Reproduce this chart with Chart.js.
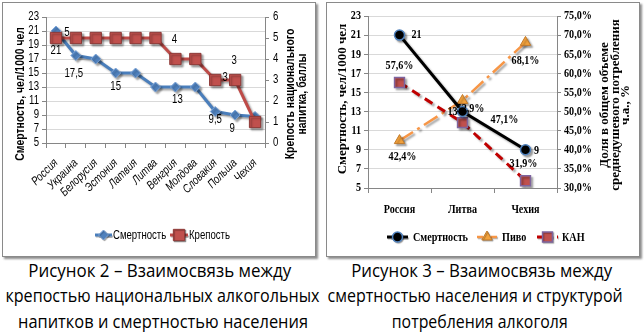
<!DOCTYPE html>
<html><head><meta charset="utf-8">
<script src="https://cdn.jsdelivr.net/npm/chart.js@4.4.0/dist/chart.umd.min.js"></script>
<style>
html,body{margin:0;padding:0;background:#fff;width:644px;height:334px;overflow:hidden;}
.box{position:absolute;border:1px solid #8a8a8a;box-shadow:2px 2px 2px rgba(0,0,0,.45);background:#fff;}
.box canvas{position:absolute;left:0;top:0;}
.ln{position:absolute;width:400px;text-align:center;font-family:"Open Sans","Noto Sans",sans-serif;font-size:18px;line-height:25px;height:25px;color:#000;white-space:nowrap;}
.ln span{display:inline-block;transform-origin:50% 50%;}
</style></head><body>
<div class="box" style="left:2px;top:2px;width:312px;height:253px"><canvas id="c1" width="312" height="253"></canvas></div>
<div class="box" style="left:326px;top:2px;width:312px;height:253px"><canvas id="c2" width="312" height="253"></canvas></div>
<div class="ln" data-c="160" data-w="263" style="top:258px"><span>Рисунок 2 – Взаимосвязь между</span></div>
<div class="ln" data-c="162" data-w="314" style="top:283px"><span>крепостью национальных алкогольных</span></div>
<div class="ln" data-c="163" data-w="290" style="top:309px"><span>напитков и смертностью населения</span></div>
<div class="ln" data-c="482" data-w="261" style="top:258px"><span>Рисунок 3 – Взаимосвязь между</span></div>
<div class="ln" data-c="475" data-w="295" style="top:283px"><span>смертностью населения и структурой</span></div>
<div class="ln" data-c="480" data-w="176" style="top:309px"><span>потребления алкоголя</span></div>
<script>
// ---------- data ----------
const CAT1 = ['Россия','Украина','Белорусия','Эстония','Латвия','Литва','Венгрия','Молдова','Словакия','Польша','Чехия'];
const MORT1 = [21, 17.5, 17, 15, 15, 13, 13, 13, 9.5, 9, 8.8];
const STR1 = [5, 5, 5, 5, 5, 5, 4, 4, 3, 3, 1];

const CAT2 = ['Россия','Литва','Чехия'];
const MORT2 = [21, 13, 9];
const BEER2 = [42.4, 52.9, 68.1];
const KAN2 = [57.6, 47.1, 31.9];

// ---------- helpers ----------
const SANS = '"Liberation Sans",Arial,sans-serif';
const SERIF = '"Liberation Serif","Times New Roman",serif';
const comma = v => String(v).replace('.', ',');
const pct = v => v.toFixed(1).replace('.', ',') + '%';

function drawMarker(ctx, ds, x, y){
  ctx.save();
  ctx.setLineDash([]);
  ctx.fillStyle = ds.pointBackgroundColor;
  ctx.strokeStyle = ds.pointBorderColor;
  ctx.lineWidth = ds.pointBorderWidth;
  Chart.helpers.drawPoint(ctx, {pointStyle: ds.pointStyle, radius: ds.pointRadius, borderWidth: ds.pointBorderWidth, rotation: 0}, x, y);
  ctx.restore();
}

// narrows glyphs: sx for upright text (page-horizontal), rsx along the baseline of rotated text
function squeeze(sx, rsx){
  return {
    id: 'squeeze',
    beforeInit(chart){
      const ctx = chart.ctx;
      const orig = ctx.fillText.bind(ctx);
      ctx.fillText = function(t, x, y, mw){
        const m = ctx.getTransform();
        ctx.save();
        if (Math.abs(m.b) < 1e-6 && Math.abs(m.c) < 1e-6) {
          const px = m.a * x + m.e;
          ctx.setTransform(new DOMMatrix([sx, 0, 0, 1, px * (1 - sx), 0]).multiply(m));
        } else {
          ctx.translate(x, y); ctx.scale(rsx, 1); ctx.translate(-x, -y);
        }
        if (mw === undefined) orig(t, x, y); else orig(t, x, y, mw);
        ctx.restore();
      };
    }
  };
}

function makeDeco(cfg){
  return {
    id: 'deco',
    beforeDatasetsDraw(chart){
      const c = chart.ctx; c.save();
      c.shadowColor = 'rgba(0,0,0,0.35)'; c.shadowOffsetX = 2; c.shadowOffsetY = 2; c.shadowBlur = 2;
    },
    afterDatasetsDraw(chart){
      const c = chart.ctx; c.restore();
      c.save();
      c.font = cfg.labelFont; c.fillStyle = '#000'; c.textAlign = 'center'; c.textBaseline = 'middle';
      chart.data.datasets.forEach((ds, di) => {
        const meta = chart.getDatasetMeta(di);
        (cfg.spots[di] || []).forEach(([i, dx, dy]) => {
          const el = meta.data[i];
          c.fillText(cfg.fmt[di](ds.data[i]), el.x + dx, el.y + dy);
        });
      });
      c.restore();
    },
    afterDraw(chart){
      const c = chart.ctx;
      cfg.titles.forEach(t => {
        c.save(); c.font = t.font; c.fillStyle = '#000'; c.textAlign = 'center'; c.textBaseline = 'middle';
        t.lines.forEach((ln, k) => {
          c.save(); c.translate(t.x + k * t.lh, t.y); c.rotate(-Math.PI / 2); c.fillText(ln, 0, 0); c.restore();
        });
        c.restore();
      });
      const L = cfg.legend;
      L.items.forEach(it => {
        const ds = chart.data.datasets[it.di];
        c.save();
        c.shadowColor = 'rgba(0,0,0,0.3)'; c.shadowOffsetX = 1; c.shadowOffsetY = 1; c.shadowBlur = 1;
        c.strokeStyle = ds.borderColor; c.lineWidth = ds.borderWidth; c.setLineDash(it.dash || []);
        c.beginPath(); c.moveTo(it.x1, L.y); c.lineTo(it.x2, L.y); c.stroke();
        drawMarker(c, ds, (it.x1 + it.x2) / 2, L.y);
        c.restore();
        c.save(); c.font = L.font; c.fillStyle = '#000'; c.textAlign = 'left'; c.textBaseline = 'middle';
        c.fillText(ds.label, it.tx, L.y + 1);
        c.restore();
      });
    }
  };
}

// ---------- chart 1 ----------
new Chart(document.getElementById('c1'), {
  type: 'line',
  data: {
    labels: CAT1,
    datasets: [
      {label: 'Смертность', data: MORT1, yAxisID: 'y', order: 1, borderColor: '#4a7ebb', borderWidth: 3,
        pointStyle: 'rectRot', pointRadius: 5, pointBackgroundColor: '#4f81bd', pointBorderColor: '#7fa5d6', pointBorderWidth: 1, tension: 0},
      {label: 'Крепость', data: STR1, yAxisID: 'y1', order: 0, borderColor: '#be4b48', borderWidth: 3,
        pointStyle: 'rect', pointRadius: 8, pointBackgroundColor: '#c0504d', pointBorderColor: '#8c3836', pointBorderWidth: 1, tension: 0}
    ]
  },
  options: {
    responsive: false, animation: false, devicePixelRatio: 1,
    layout: {padding: {top: 14, left: 0, right: 0, bottom: 0}},
    plugins: {legend: {display: false}, tooltip: {enabled: false}},
    scales: {
      x: {offset: true, grid: {offset: true, drawOnChartArea: false, tickLength: 5, color: '#868686'},
        border: {color: '#868686'},
        ticks: {autoSkip: false, minRotation: 45, maxRotation: 45, color: '#000', padding: 8,
          font: {family: SANS, size: 12, style: 'italic'}},
        afterFit(s){ s.height = 113; }},
      y: {position: 'left', min: 5, max: 23,
        ticks: {stepSize: 2, autoSkip: false, color: '#000', padding: 3, font: {family: SANS, size: 12}},
        grid: {color: '#d9d9d9', tickColor: '#868686', tickLength: 4}, border: {color: '#868686'},
        afterFit(s){ s.width = 43; }},
      y1: {position: 'right', min: 0, max: 6,
        ticks: {stepSize: 1, autoSkip: false, color: '#000', padding: 4, font: {family: SANS, size: 12}},
        grid: {drawOnChartArea: false, color: '#868686', tickLength: 4}, border: {color: '#868686'},
        afterFit(s){ s.width = 50; }}
    }
  },
  plugins: [squeeze(0.8, 0.8), makeDeco({
    labelFont: '12px ' + SANS,
    fmt: [comma, comma],
    spots: [
      [[0, 0, 20], [1, -2, 18], [3, 0, 14], [6, 2, 13], [8, 0, 8], [9, -3, 14]],
      [[0, 11, -5], [6, -1, -19], [8, 10, -2], [9, -1, -19]]
    ],
    titles: [
      {lines: ['Смертность, чел/1000 чел'], x: 17, y: 91, lh: 12, font: 'bold 13px ' + SANS},
      {lines: ['Крепость национального', 'напитка, баллы'], x: 287, y: 91, lh: 12, font: 'bold 13px ' + SANS}
    ],
    legend: {y: 232, font: '12px ' + SANS, items: [
      {di: 0, x1: 92, x2: 109, tx: 110},
      {di: 1, x1: 167, x2: 185, tx: 186}
    ]}
  })]
});

// ---------- chart 2 ----------
new Chart(document.getElementById('c2'), {
  type: 'line',
  data: {
    labels: CAT2,
    datasets: [
      {label: 'Смертность', data: MORT2, yAxisID: 'y', order: 0, borderColor: '#000', borderWidth: 3,
        pointStyle: 'circle', pointRadius: 5, pointBackgroundColor: '#000', pointBorderColor: '#4f81bd', pointBorderWidth: 1.5, tension: 0},
      {label: 'Пиво', data: BEER2, yAxisID: 'y1', order: 2, borderColor: '#f79646', borderWidth: 2.5, borderDash: [16, 5, 3, 5],
        pointStyle: 'triangle', pointRadius: 6, pointBackgroundColor: '#f3a23c', pointBorderColor: '#c07a2c', pointBorderWidth: 1, tension: 0},
      {label: 'КАН', data: KAN2, yAxisID: 'y1', order: 1, borderColor: '#c00000', borderWidth: 3, borderDash: [9, 6],
        pointStyle: 'rect', pointRadius: 7, pointBackgroundColor: '#c0504d', pointBorderColor: '#7e649e', pointBorderWidth: 1.5, tension: 0}
    ]
  },
  options: {
    responsive: false, animation: false, devicePixelRatio: 1,
    layout: {padding: {top: 13, left: 0, right: 0, bottom: 0}},
    plugins: {legend: {display: false}, tooltip: {enabled: false}},
    scales: {
      x: {offset: true, grid: {offset: true, drawOnChartArea: false, tickLength: 5, color: '#868686'},
        border: {color: '#868686'},
        ticks: {autoSkip: false, maxRotation: 0, color: '#000', padding: 9,
          font: {family: SERIF, size: 13, weight: 'bold'}},
        afterFit(s){ s.height = 68; }},
      y: {position: 'left', min: 5, max: 23,
        ticks: {stepSize: 2, autoSkip: false, color: '#000', padding: 3, font: {family: SERIF, size: 13, weight: 'bold'}},
        grid: {color: '#d9d9d9', tickColor: '#868686', tickLength: 4}, border: {color: '#868686'},
        afterFit(s){ s.width = 41; }},
      y1: {position: 'right', min: 30, max: 75,
        ticks: {stepSize: 5, autoSkip: false, color: '#000', padding: 3, font: {family: SERIF, size: 13, weight: 'bold'},
          callback: v => pct(v)},
        grid: {drawOnChartArea: false, color: '#868686', tickLength: 4}, border: {color: '#868686'},
        afterFit(s){ s.width = 82; }}
    }
  },
  plugins: [squeeze(0.78, 1), makeDeco({
    labelFont: 'bold 13px ' + SERIF,
    fmt: [comma, pct, pct],
    spots: [
      [[0, 17, 0], [1, -10, 0], [2, 11, 1]],
      [[0, 3, 16], [1, 8, 8], [2, 0, 18]],
      [[0, 0, -17], [1, 42, -3], [2, -2, -17]]
    ],
    titles: [
      {lines: ['Смертность, чел/1000 чел'], x: 16, y: 96, lh: 12, font: 'bold 13px ' + SERIF},
      {lines: ['Доля в общем объеме', 'среднедушевого потребления', 'ч.а., %'], x: 278, y: 102, lh: 10.5, font: 'bold 13px ' + SERIF}
    ],
    legend: {y: 234, font: 'bold 13px ' + SERIF, items: [
      {di: 0, x1: 60, x2: 81, tx: 86},
      {di: 1, x1: 150, x2: 170, tx: 175, dash: [6, 3, 2, 3]},
      {di: 2, x1: 210, x2: 231, tx: 235, dash: [6, 4]}
    ]}
  })]
});

// ---------- captions: each line centred and fitted to its width in the reference ----------
document.querySelectorAll('.ln').forEach(d => {
  const c = +d.dataset.c, w = +d.dataset.w;
  d.style.left = (c - 200) + 'px';
  const s = d.querySelector('span');
  const k = w / s.getBoundingClientRect().width;
  s.style.transform = 'scaleX(' + k.toFixed(3) + ')';
});
</script>
</body></html>
